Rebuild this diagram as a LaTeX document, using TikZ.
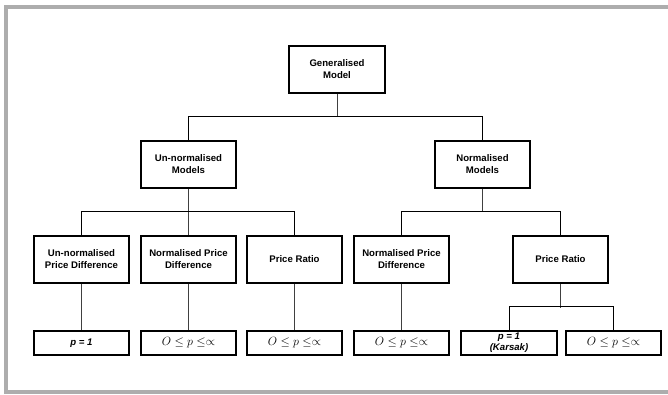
\documentclass[tikz,border=0pt]{standalone}
\usepackage{fontspec}
\setmainfont{Liberation Sans}
\tikzset{
  box/.style={draw=black, line width=1.2pt, fill=white, align=center, inner sep=1pt,
    minimum width=95pt, minimum height=47pt, font=\fontsize{9.6}{12}\selectfont\bfseries},
  leaf/.style={box, minimum height=24pt},
  bar/.style={draw=black, line width=0.9pt},
  drop/.style={draw=black!75, line width=0.9pt},
  frame/.style={draw=black!32, line width=4pt},
  mth/.style={font=\fontsize{12.5}{13}\selectfont}
}
\begin{document}
\begin{tikzpicture}[x=1pt,y=-1pt]
\useasboundingbox (0,0) rectangle (668,394);
\fill[white] (0,0) rectangle (668,394);
% frame
\draw[frame] (668,7) -- (6,7) -- (6,392) -- (668,392);
% nodes
\node[box, minimum width=96pt] (gen) at (337,69.5) {Generalised\\Model};
\node[box] (unm) at (188.5,164.5) {Un-normalised\\Models};
\node[box] (nm)  at (482.5,164.5) {Normalised\\Models};
\node[box] (b1) at (81.5,259.5) {Un-normalised\\Price Difference};
\node[box] (b2) at (188.5,259.5) {Normalised Price\\Difference};
\node[box] (b3) at (294.5,259.5) {Price Ratio};
\node[box] (b4) at (401.5,259.5) {Normalised Price\\Difference};
\node[box] (b5) at (560.5,259.5) {Price Ratio};
\node[leaf] (c1) at (81.5,343) {\itshape p = 1};
\node[leaf, mth] (c2) at (188.5,343) {$O \leq p \leq \propto$};
\node[leaf, mth] (c3) at (294.5,343) {$O \leq p \leq \propto$};
\node[leaf, mth] (c4) at (401.5,343) {$O \leq p \leq \propto$};
\node[leaf, minimum width=96pt, font=\fontsize{9.6}{11}\selectfont\bfseries\itshape] (c5) at (509,343) {p = 1\\(Karsak)};
\node[leaf, mth] (c6) at (613.5,343) {$O \leq p \leq \propto$};
% connectors
\draw[drop] (gen.south) -- ++(0,23.5) coordinate (g1);
\draw[bar] (unm.north) -- ++(0,-23.5) -| (nm.north);
\draw[drop] (unm.south) -- (b2.north);
\draw[bar] (b1.north) -- ++(0,-23.5) -| (b3.north);
\draw[drop] (nm.south) -- ++(0,23.5) coordinate (n1);
\draw[bar] (b4.north) -- ++(0,-23.5) -| (b5.north);
\draw[drop] (b1.south) -- (c1.north);
\draw[drop] (b2.south) -- (c2.north);
\draw[drop] (b3.south) -- (c3.north);
\draw[drop] (b4.south) -- (c4.north);
\draw[drop] (b5.south) -- ++(0,24) coordinate (p1);
\draw[bar] (c5.north) -- ++(0,-23.5) -| (c6.north);
\end{tikzpicture}
\end{document}
